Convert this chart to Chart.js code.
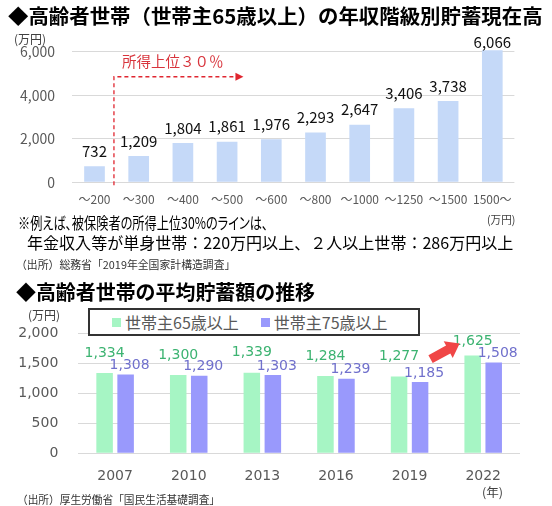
<!DOCTYPE html>
<html lang="ja">
<head>
<meta charset="utf-8">
<script src="https://cdn.jsdelivr.net/npm/chart.js@4.4.0/dist/chart.umd.min.js"></script>
<style>
  html, body { margin: 0; padding: 0; background: #fff; }
  body { width: 552px; height: 506px; position: relative; overflow: hidden; font-family: "Noto Sans CJK JP", sans-serif; color: #000; }
  canvas { position: absolute; left: 0; }
  .t { position: absolute; white-space: nowrap; line-height: 1; transform-origin: 0 50%; }
  .p { font-feature-settings: "palt"; }
  #legend { position: absolute; left: 88px; top: 308px; width: 306px; height: 24px; border: 2px solid #333; background: #fff;
            display: flex; align-items: center; padding-left: 22px; box-sizing: content-box; font-size: 16px; color: #595959; }
  #legend .item { display: flex; align-items: center; margin-right: 22px; }
  #legend .box { width: 9px; height: 9px; margin-right: 4px; }
</style>
</head>
<body>
<canvas id="top" width="552" height="215" style="top:0"></canvas>
<canvas id="bottom" width="552" height="206" style="top:300px"></canvas>

<div class="t" data-x="8" data-y="16" data-w="535" style="font-size:20px;font-weight:bold">◆高齢者世帯（世帯主65歳以上）の年収階級別貯蓄現在高</div>
<div class="t" data-x="14" data-y="39" data-w="32" style="font-size:12px;color:#404040">(万円)</div>
<div class="t p" data-x="18" data-y="222" data-w="250" style="font-size:16px">※例えば、被保険者の所得上位30%のラインは、</div>
<div class="t" data-x="487" data-y="219" data-w="28" style="font-size:11px;color:#404040">(万円)</div>
<div class="t" data-x="27" data-y="242" data-w="486" style="font-size:16px">年金収入等が単身世帯：220万円以上、２人以上世帯：286万円以上</div>
<div class="t" data-x="16" data-y="264" data-w="219" style="font-size:11px;color:#333">（出所）総務省「2019年全国家計構造調査」</div>
<div class="t" data-x="16" data-y="292" data-w="299" style="font-size:20px;font-weight:bold">◆高齢者世帯の平均貯蓄額の推移</div>
<div class="t" data-x="28" data-y="315" data-w="32" style="font-size:12px;color:#404040">(万円)</div>
<div class="t" data-x="482" data-y="492" data-w="21" style="font-size:12px;color:#404040">(年)</div>
<div class="t" data-x="17" data-y="499" data-w="203" style="font-size:11px;color:#333">（出所）厚生労働省「国民生活基礎調査」</div>
<div id="legend"></div>

<script>
// top chart: savings by annual income class (households, head 65+)
const incomeClasses = ["～200", "～300", "～400", "～500", "～600", "～800", "～1000", "～1250", "～1500", "1500～"];
const savingsByIncome = [732, 1209, 1804, 1861, 1976, 2293, 2647, 3406, 3738, 6066];
const topTicks = [0, 2000, 4000, 6000];

// bottom chart: average savings by survey year
const years = ["2007", "2010", "2013", "2016", "2019", "2022"];
const head65 = [1334, 1300, 1339, 1284, 1277, 1625];
const head75 = [1308, 1290, 1303, 1239, 1185, 1508];
const bottomTicks = [0, 500, 1000, 1500, 2000];

const fmt = (v) => v.toLocaleString("en-US");
const JP = '"Noto Sans CJK JP", sans-serif';
const DV = '"DejaVu Sans", sans-serif';

const valueLabels = {
  id: "valueLabels",
  afterDatasetsDraw(chart) {
    const ctx = chart.ctx;
    chart.data.datasets.forEach((ds, i) => {
      const meta = chart.getDatasetMeta(i);
      ctx.save();
      ctx.font = ds.labelFont;
      ctx.fillStyle = ds.labelColor;
      ctx.textAlign = "center";
      ctx.textBaseline = "middle";
      meta.data.forEach((bar, j) => {
        const y = Math.max(bar.y - ds.labelRise, chart.chartArea.top + 8);
        ctx.fillText(fmt(ds.data[j]), bar.x + ds.labelShift, y);
      });
      ctx.restore();
    });
  }
};

// red dashed "top 30%" marker, placed in category/value space
const markerFrom = 0.44, markerTo = 3.37, markerLevel = 4850;
const topMarker = {
  id: "topMarker",
  afterDatasetsDraw(chart) {
    const { ctx, scales: { x, y } } = chart;
    const step = x.getPixelForValue(1) - x.getPixelForValue(0);
    const px = (i) => x.getPixelForValue(0) + step * i;
    const x0 = px(markerFrom), x1 = px(markerTo);
    const yl = y.getPixelForValue(markerLevel), yb = y.getPixelForValue(0) + 3;
    ctx.save();
    ctx.strokeStyle = "#e02630";
    ctx.fillStyle = "#e02630";
    ctx.lineWidth = 1.3;
    ctx.setLineDash([4, 3]);
    ctx.beginPath();
    ctx.moveTo(x0, yb);
    ctx.lineTo(x0, yl);
    ctx.lineTo(x1 - 7, yl);
    ctx.stroke();
    ctx.setLineDash([]);
    ctx.beginPath();
    ctx.moveTo(x1, yl);
    ctx.lineTo(x1 - 8, yl - 4);
    ctx.lineTo(x1 - 8, yl + 4);
    ctx.closePath();
    ctx.fill();
    ctx.font = "14.5px " + JP;
    ctx.fillStyle = "#d8343c";
    ctx.textBaseline = "middle";
    ctx.fillText("所得上位３０％", x0 + 8, yl - 15);
    ctx.restore();
  }
};

// red block arrow between 2019 and 2022
const arrowFrom = [4.285, 1566], arrowTo = [4.68, 1827];
const riseArrow = {
  id: "riseArrow",
  afterDatasetsDraw(chart) {
    const { ctx, scales: { x, y } } = chart;
    const step = x.getPixelForValue(1) - x.getPixelForValue(0);
    const px = (i) => x.getPixelForValue(0) + step * i;
    const ax = px(arrowFrom[0]), ay = y.getPixelForValue(arrowFrom[1]);
    const bx = px(arrowTo[0]), by = y.getPixelForValue(arrowTo[1]);
    const len = Math.hypot(bx - ax, by - ay);
    const ux = (bx - ax) / len, uy = (by - ay) / len;
    const nx = -uy, ny = ux;
    const shaft = 4.5, head = 9.5, headLen = 13;
    const hx = bx - ux * headLen, hy = by - uy * headLen;
    ctx.save();
    ctx.fillStyle = "#f04646";
    ctx.beginPath();
    ctx.moveTo(ax + nx * shaft, ay + ny * shaft);
    ctx.lineTo(hx + nx * shaft, hy + ny * shaft);
    ctx.lineTo(hx + nx * head, hy + ny * head);
    ctx.lineTo(bx, by);
    ctx.lineTo(hx - nx * head, hy - ny * head);
    ctx.lineTo(hx - nx * shaft, hy - ny * shaft);
    ctx.lineTo(ax - nx * shaft, ay - ny * shaft);
    ctx.closePath();
    ctx.fill();
    ctx.restore();
  }
};

new Chart(document.getElementById("top"), {
  type: "bar",
  data: {
    labels: incomeClasses,
    datasets: [{
      data: savingsByIncome,
      backgroundColor: "#c5d9f8",
      categoryPercentage: 1,
      barPercentage: 0.468,
      labelFont: "15px " + JP,
      labelColor: "#111",
      labelRise: 15,
      labelShift: 0
    }]
  },
  options: {
    responsive: false,
    animation: false,
    layout: { padding: { top: 34.3, right: 37.6, bottom: 2.7, left: 0 } },
    plugins: { legend: { display: false }, tooltip: { enabled: false } },
    scales: {
      x: {
        grid: { display: false },
        border: { display: false },
        ticks: { color: "#595959", font: { family: JP, size: 12 }, padding: 1.5, maxRotation: 0, autoSkip: false },
        afterFit: (s) => { s.height = 30; }
      },
      y: {
        min: 0,
        max: 6800,
        afterBuildTicks: (s) => { s.ticks = topTicks.map((v) => ({ value: v })); },
        grid: { color: "#d9d9d9", drawTicks: false },
        border: { display: false },
        ticks: { color: "#595959", font: { family: JP, size: 14 }, padding: 17.4, callback: (v) => fmt(v) },
        afterFit: (s) => { s.width = 72.4; }
      }
    }
  },
  plugins: [valueLabels, topMarker]
});

const bottomChart = new Chart(document.getElementById("bottom"), {
  type: "bar",
  data: {
    labels: years,
    datasets: [
      {
        label: "世帯主65歳以上",
        data: head65,
        backgroundColor: "#a6f5c4",
        categoryPercentage: 0.571,
        barPercentage: 0.786,
        labelFont: "14px " + DV,
        labelColor: "#3cb371",
        labelRise: 20,
        labelShift: 0
      },
      {
        label: "世帯主75歳以上",
        data: head75,
        backgroundColor: "#9999fc",
        categoryPercentage: 0.571,
        barPercentage: 0.786,
        labelFont: "14px " + DV,
        labelColor: "#7070cc",
        labelRise: 9,
        labelShift: 4
      }
    ]
  },
  options: {
    responsive: false,
    animation: false,
    layout: { padding: { top: 33, right: 32, bottom: 22.7, left: 0 } },
    plugins: { legend: { display: false }, tooltip: { enabled: false } },
    scales: {
      x: {
        grid: { display: false },
        border: { display: false },
        ticks: { color: "#595959", font: { family: DV, size: 14 }, padding: 6.3, maxRotation: 0 },
        afterFit: (s) => { s.height = 30; }
      },
      y: {
        min: 0,
        max: 2000,
        afterBuildTicks: (s) => { s.ticks = bottomTicks.map((v) => ({ value: v })); },
        grid: { color: "#d9d9d9", drawTicks: false },
        border: { display: false },
        ticks: { color: "#595959", font: { family: DV, size: 14 }, padding: 20, callback: (v) => fmt(v) },
        afterFit: (s) => { s.width = 78.3; }
      }
    }
  },
  plugins: [valueLabels, riseArrow]
});

// legend box drawn from the chart's datasets
const legend = document.getElementById("legend");
bottomChart.data.datasets.forEach((ds) => {
  const item = document.createElement("div");
  item.className = "item";
  item.innerHTML = '<span class="box" style="background:' + ds.backgroundColor + '"></span><span>' + ds.label + "</span>";
  legend.appendChild(item);
});

// place free text: left edge, vertical centre and width as in the picture
document.querySelectorAll(".t").forEach((el) => {
  const w = el.offsetWidth, h = el.offsetHeight;
  el.style.left = el.dataset.x + "px";
  el.style.top = (el.dataset.y - h / 2) + "px";
  el.style.transform = "scaleX(" + (el.dataset.w / w) + ")";
});
</script>
</body>
</html>
